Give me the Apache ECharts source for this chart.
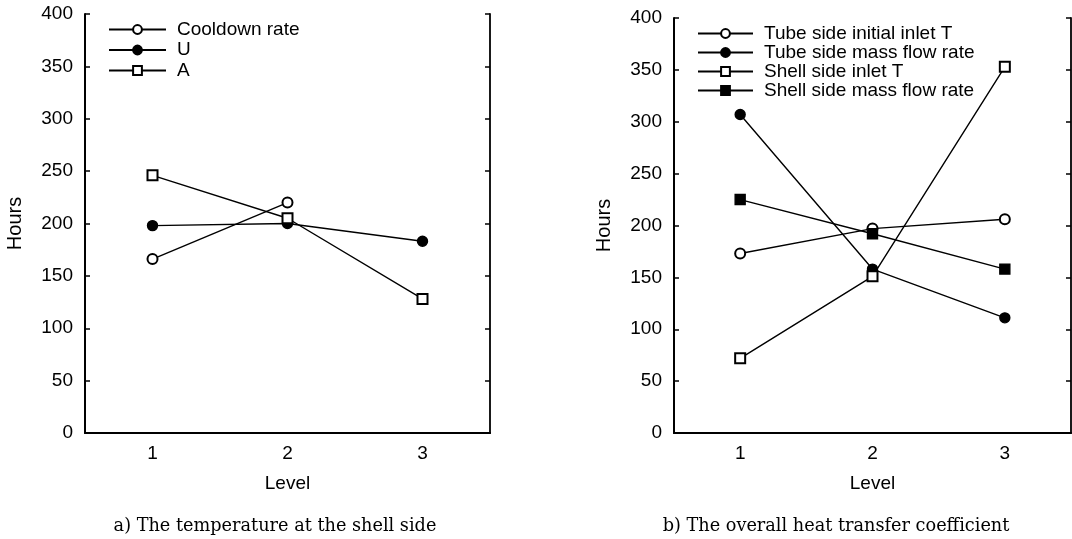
<!DOCTYPE html>
<html>
<head>
<meta charset="utf-8">
<script src="https://cdn.jsdelivr.net/npm/echarts@6/dist/echarts.min.js"></script>
<style>
  html, body { margin: 0; padding: 0; background: #fff; }
  #chart { width: 1072px; height: 539px; }
</style>
</head>
<body>
<div id="chart"></div>
<script>
// levels on the x axis
const levels = ['1', '2', '3']

// a) temperature at the shell side
const cooldownRate = [166, 220, null]
const uValues = [198, 200, 183]
const aValues = [246, 205, 128]

// b) overall heat transfer coefficient
const tubeInletT = [173, 197, 206]
const tubeMassFlow = [307, 158, 111]
const shellInletT = [72, 151, 353]
const shellMassFlow = [225, 192, 158]

const yTicks = { min: 0, max: 400, interval: 50 }

const captionA = 'a) The temperature at the shell side'
const captionB = 'b) The overall heat transfer coefficient'

const sans = 'Liberation Sans, Arial, sans-serif'
const lineStyle = { color: '#000', width: 1.4 }

function bottomAxis(gridIndex) {
  return {
    type: 'category',
    gridIndex: gridIndex,
    data: levels,
    boundaryGap: true,
    name: 'Level',
    nameLocation: 'middle',
    nameGap: 41,
    nameTextStyle: { color: '#000', fontFamily: sans, fontSize: 19 },
    axisLine: { lineStyle: { color: '#000', width: 2 } },
    axisTick: { inside: true, alignWithLabel: true, length: 5, lineStyle: { color: '#000', width: 1.5 } },
    axisLabel: { color: '#000', fontFamily: sans, fontSize: 19, margin: 11 },
    splitLine: { show: false }
  }
}

function topAxis(gridIndex) {
  return {
    type: 'category',
    gridIndex: gridIndex,
    position: 'top',
    data: levels,
    boundaryGap: true,
    axisLine: { lineStyle: { color: '#000', width: 1.5 } },
    axisTick: { inside: true, alignWithLabel: true, length: 5, lineStyle: { color: '#000', width: 1.5 } },
    axisLabel: { show: false },
    splitLine: { show: false }
  }
}

function leftAxis(gridIndex) {
  return {
    type: 'value',
    gridIndex: gridIndex,
    min: yTicks.min,
    max: yTicks.max,
    interval: yTicks.interval,
    name: 'Hours',
    nameLocation: 'middle',
    nameGap: 60,
    nameTextStyle: { color: '#000', fontFamily: sans, fontSize: 20 },
    axisLine: { show: true, lineStyle: { color: '#000', width: 2 } },
    axisTick: { show: true, inside: true, length: 5, lineStyle: { color: '#000', width: 1.5 } },
    axisLabel: { color: '#000', fontFamily: sans, fontSize: 19, margin: 12 },
    splitLine: { show: false }
  }
}

function rightAxis(gridIndex) {
  return {
    type: 'value',
    gridIndex: gridIndex,
    position: 'right',
    min: yTicks.min,
    max: yTicks.max,
    interval: yTicks.interval,
    axisLine: { show: true, lineStyle: { color: '#000', width: 1.8 } },
    axisTick: { show: true, inside: true, length: 5, lineStyle: { color: '#000', width: 1.5 } },
    axisLabel: { show: false },
    splitLine: { show: false }
  }
}

function lineSeries(name, data, symbol, axisIndex) {
  return {
    name: name,
    type: 'line',
    xAxisIndex: axisIndex,
    yAxisIndex: axisIndex,
    data: data,
    symbol: symbol,
    symbolSize: 10,
    showAllSymbol: true,
    connectNulls: false,
    lineStyle: lineStyle,
    itemStyle: { color: '#000', borderColor: '#000', borderWidth: 1.4 },
    emphasis: { disabled: true },
    animation: false
  }
}

const legendText = { color: '#000', fontFamily: sans, fontSize: 19, lineHeight: 18, padding: [0, 0, 0, 6] }

const option = {
  backgroundColor: '#fff',
  animation: false,
  title: [
    {
      text: captionA, left: 275, top: 517, textAlign: 'center', padding: 0,
      textStyle: { color: '#000', fontFamily: 'DejaVu Serif, serif', fontWeight: 'normal', fontSize: 17.7 }
    },
    {
      text: captionB, left: 836, top: 517, textAlign: 'center', padding: 0,
      textStyle: { color: '#000', fontFamily: 'DejaVu Serif, serif', fontWeight: 'normal', fontSize: 17.7 }
    }
  ],
  legend: [
    {
      data: ['Cooldown rate', 'U', 'A'],
      orient: 'vertical',
      left: 108, top: 20,
      padding: 0,
      itemWidth: 57, itemHeight: 11, itemGap: 1.5,
      textStyle: legendText,
      selectedMode: false
    },
    {
      data: ['Tube side initial inlet T', 'Tube side mass flow rate', 'Shell side inlet T', 'Shell side mass flow rate'],
      orient: 'vertical',
      left: 697, top: 24,
      padding: 0,
      itemWidth: 55, itemHeight: 11, itemGap: 0,
      textStyle: legendText,
      selectedMode: false
    }
  ],
  grid: [
    { left: 85, top: 14, width: 405, height: 419 },
    { left: 674, top: 18, width: 397, height: 415 }
  ],
  xAxis: [bottomAxis(0), bottomAxis(1), topAxis(0), topAxis(1)],
  yAxis: [leftAxis(0), leftAxis(1), rightAxis(0), rightAxis(1)],
  series: [
    lineSeries('Cooldown rate', cooldownRate, 'emptyCircle', 0),
    lineSeries('U', uValues, 'circle', 0),
    lineSeries('A', aValues, 'emptyRect', 0),
    lineSeries('Tube side initial inlet T', tubeInletT, 'emptyCircle', 1),
    lineSeries('Tube side mass flow rate', tubeMassFlow, 'circle', 1),
    lineSeries('Shell side inlet T', shellInletT, 'emptyRect', 1),
    lineSeries('Shell side mass flow rate', shellMassFlow, 'rect', 1)
  ]
}

const chart = echarts.init(document.getElementById('chart'))
chart.setOption(option)
window.addEventListener('resize', () => chart.resize())
</script>
</body>
</html>
